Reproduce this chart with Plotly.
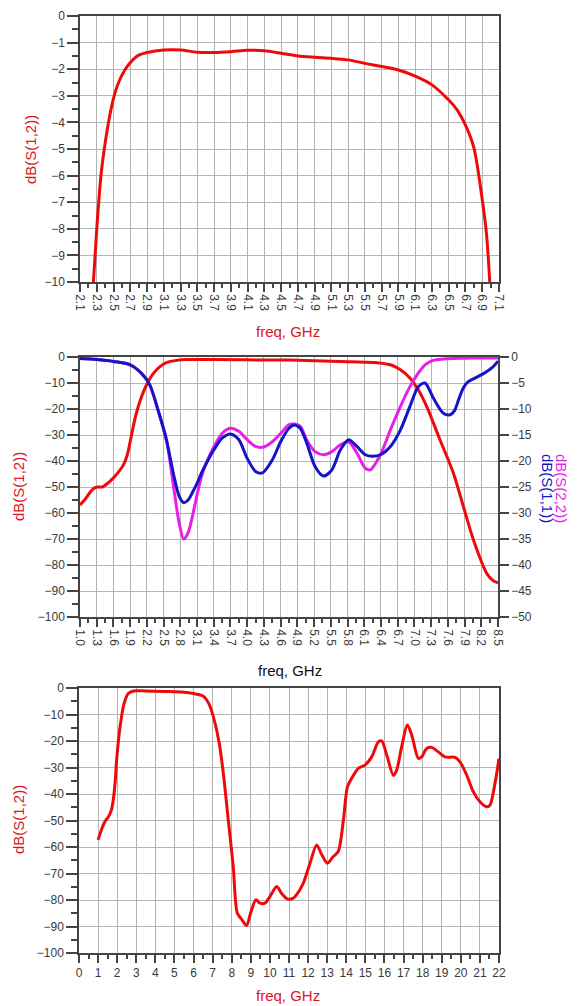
import plotly.graph_objects as go

# ---- Panel 1: passband detail, dB(S(1,2)) ----
top_freq = [2.26, 2.30, 2.35, 2.39, 2.44, 2.50, 2.56, 2.64, 2.73, 2.80, 2.90, 3.10, 3.30,
            3.50, 3.70, 3.90, 4.10, 4.30, 4.50, 4.70, 4.90, 5.10, 5.30, 5.50, 5.70,
            5.90, 6.10, 6.30, 6.50, 6.60, 6.70, 6.80, 6.90, 6.95, 6.99]
top_s12 = [-10.0, -8.0, -6.0, -5.0, -4.0, -3.1, -2.5, -2.0, -1.65, -1.47, -1.37, -1.28, -1.28,
           -1.36, -1.37, -1.34, -1.29, -1.31, -1.40, -1.50, -1.55, -1.59, -1.65, -1.78, -1.90,
           -2.03, -2.26, -2.59, -3.16, -3.53, -4.10, -4.95, -6.90, -8.17, -10.0]
top_xticks = [round(2.1 + 0.2 * i, 1) for i in range(26)]

# ---- Panel 2: S21 (left axis) with S11 / S22 (right axis) ----
mid_red_freq = [1.0, 1.1, 1.2, 1.27, 1.33, 1.40, 1.50, 1.60, 1.70, 1.78, 1.85, 1.92, 2.00,
                2.10, 2.20, 2.32, 2.44, 2.56, 2.74, 2.92, 3.5, 4.0, 4.77, 5.67, 6.27, 6.57,
                6.75, 6.92, 7.07, 7.22, 7.46, 7.70, 7.88, 8.06, 8.30, 8.42, 8.5]
mid_red_s12 = [-56.9, -54.5, -51.5, -50.2, -50.0, -50.0, -48.5, -46.5, -44.0, -41.5, -37.5,
               -30.5, -22.5, -15.5, -10.5, -6.2, -3.6, -2.1, -1.3, -1.0, -1.0, -1.1, -1.2,
               -1.7, -2.1, -3.0, -4.9, -8.1, -12.6, -19.0, -31.9, -44.7, -57.6, -70.4,
               -83.3, -86.1, -86.9]

s11_freq = [1.0, 1.3, 1.6, 1.9, 2.1, 2.25, 2.4, 2.55, 2.62, 2.7, 2.78, 2.86, 2.94, 3.02, 3.1,
            3.18, 3.25, 3.4, 3.55, 3.7, 3.85, 4.0, 4.15, 4.27, 4.45, 4.6, 4.75, 4.85, 4.95,
            5.07, 5.22, 5.37, 5.52, 5.67, 5.82, 5.97, 6.12, 6.25, 6.39, 6.57, 6.75, 6.92,
            7.07, 7.19, 7.34, 7.52, 7.64, 7.72, 7.80, 7.88, 7.96, 8.06, 8.24, 8.40, 8.5]
s11_db = [-0.3, -0.5, -0.85, -1.5, -3.1, -5.3, -10.2, -15.9, -19.5, -23.6, -26.8, -28.0, -27.5,
          -26.0, -24.3, -22.3, -20.8, -17.9, -15.6, -14.8, -15.9, -19.5, -22.0, -22.3, -19.8,
          -16.3, -13.7, -13.1, -13.7, -16.6, -21.1, -22.9, -21.7, -17.9, -15.9, -17.2, -18.8,
          -19.1, -18.8, -17.2, -14.0, -9.5, -5.7, -5.0, -7.9, -10.8, -11.1, -10.3, -8.0,
          -5.9, -4.8, -4.2, -3.2, -2.0, -0.8]

s22_freq = [1.0, 1.3, 1.6, 1.9, 2.1, 2.25, 2.4, 2.55, 2.62, 2.7, 2.78, 2.86, 2.94, 3.02, 3.1,
            3.18, 3.25, 3.4, 3.55, 3.7, 3.85, 4.0, 4.15, 4.3, 4.45, 4.6, 4.75, 4.85, 4.95,
            5.07, 5.22, 5.37, 5.52, 5.67, 5.82, 5.97, 6.12, 6.21, 6.39, 6.57, 6.75, 6.92,
            7.07, 7.19, 7.34, 7.52, 7.8, 8.1, 8.5]
s22_db = [-0.3, -0.5, -0.85, -1.5, -3.1, -5.3, -10.2, -15.9, -20.5, -26.5, -32.0, -35.0, -33.8,
          -30.5, -26.5, -23.0, -20.8, -17.3, -14.7, -13.7, -14.3, -15.9, -17.2, -17.3, -16.3,
          -14.7, -13.0, -12.9, -13.3, -16.0, -18.2, -18.8, -18.2, -16.9, -16.3, -18.5, -21.4,
          -21.7, -18.8, -14.0, -9.5, -5.7, -3.1, -1.5, -0.65, -0.4, -0.25, -0.2, -0.2]
mid_xticks = [round(1.0 + 0.3 * i, 1) for i in range(26)]

# ---- Panel 3: wideband dB(S(1,2)) ----
bot_freq = [1.0, 1.2, 1.36, 1.55, 1.7, 1.8, 1.9, 1.97, 2.15, 2.36, 2.58, 2.85, 3.5, 4.5, 5.5,
            6.0, 6.5, 6.8, 7.04, 7.35, 7.6, 7.8, 8.08, 8.29, 8.52, 8.78, 8.99, 9.27, 9.48,
            9.74, 10.0, 10.36, 10.6, 10.91, 11.23, 11.40, 11.75, 12.10, 12.45, 12.71, 13.01,
            13.32, 13.58, 13.85, 14.06, 14.28, 14.63, 14.98, 15.33, 15.68, 15.86, 16.12,
            16.47, 16.64, 16.9, 17.2, 17.43, 17.78, 17.95, 18.21, 18.47, 18.82, 19.17,
            19.70, 19.96, 20.31, 20.65, 21.0, 21.36, 21.53, 21.79, 22.0]
bot_s12 = [-57.3, -53.0, -50.4, -48.5, -46.0, -42.0, -35.0, -27.2, -14.7, -5.9, -2.1, -1.1,
           -1.1, -1.3, -1.6, -2.1, -3.0, -5.9, -10.9, -20.9, -34.7, -48.5, -67.4, -84.9,
           -87.3, -89.6, -84.9, -79.9, -81.2, -81.2, -78.7, -74.9, -77.4, -79.6, -79.3,
           -78.0, -73.6, -66.1, -59.2, -62.8, -66.1, -63.6, -61.7, -49.8, -37.3, -34.1,
           -30.3, -29.1, -26.0, -20.3, -20.0, -25.3, -33.0, -31.0, -22.2, -14.0, -17.8,
           -26.6, -26.0, -22.8, -22.4, -24.1, -26.0, -26.2, -27.9, -32.9, -39.1, -42.9,
           -44.8, -44.2, -36.0, -26.6]

W, H = 588, 1006
RED = "#ee0a0a"
BLUE = "#1414c8"
MAGENTA = "#e81ee8"
LABEL_RED = "#dc1428"
AX = "#444444"
GRID = "#b4b4b4"
FONT = "Liberation Sans, Arial, sans-serif"


def xdom(l, r):
    return [l / W, r / W]


def ydom(t, b):
    return [1 - b / H, 1 - t / H]


def px(x):
    return x / W


def py(y):
    return 1 - y / H


line_kw = dict(shape="spline", smoothing=0.8, width=3)

fig = go.Figure()
fig.add_trace(go.Scatter(x=top_freq, y=top_s12, mode="lines", line=dict(color=RED, **line_kw),
                         xaxis="x", yaxis="y", hoverinfo="skip"))
fig.add_trace(go.Scatter(x=s22_freq, y=s22_db, mode="lines", line=dict(color=MAGENTA, **line_kw),
                         xaxis="x2", yaxis="y4", hoverinfo="skip"))
fig.add_trace(go.Scatter(x=s11_freq, y=s11_db, mode="lines", line=dict(color=BLUE, **line_kw),
                         xaxis="x2", yaxis="y4", hoverinfo="skip"))
fig.add_trace(go.Scatter(x=mid_red_freq, y=mid_red_s12, mode="lines", line=dict(color=RED, **line_kw),
                         xaxis="x2", yaxis="y2", hoverinfo="skip"))
fig.add_trace(go.Scatter(x=bot_freq, y=bot_s12, mode="lines", line=dict(color=RED, **line_kw),
                         xaxis="x3", yaxis="y3", hoverinfo="skip"))

tickfont = dict(family=FONT, size=12, color="#3a3a3a")
common = dict(showline=True, linecolor=AX, linewidth=1.5, mirror=True, ticks="outside",
              tickcolor=AX, tickwidth=1.5, showgrid=True, gridcolor=GRID, gridwidth=1,
              zeroline=False, tickfont=tickfont, fixedrange=True, automargin=False)

fig.update_layout(
    width=W, height=H, margin=dict(l=0, r=0, t=0, b=0, autoexpand=False),
    paper_bgcolor="white", plot_bgcolor="white", showlegend=False,
    xaxis=dict(domain=xdom(80, 499), anchor="y", range=[2.1, 7.1],
               tickvals=top_xticks, ticktext=[f"{v:.1f}" for v in top_xticks],
               tickangle=90, ticklen=8,
               minor=dict(dtick=0.1, tick0=2.1, ticks="outside", ticklen=4, tickcolor=AX, showgrid=False),
               **common),
    yaxis=dict(domain=ydom(16, 282), anchor="x", range=[-10, 0], dtick=1, ticklen=11,
               minor=dict(dtick=0.5, ticks="outside", ticklen=6, tickcolor=AX, showgrid=False),
               **common),
    xaxis2=dict(domain=xdom(80, 498), anchor="y2", range=[1.0, 8.5],
                tickvals=mid_xticks, ticktext=[f"{v:.1f}" for v in mid_xticks],
                tickangle=90, ticklen=8,
                minor=dict(dtick=0.15, tick0=1.0, ticks="outside", ticklen=4, tickcolor=AX, showgrid=False),
                **common),
    yaxis2=dict(domain=ydom(357, 617), anchor="x2", range=[-100, 0], dtick=10, ticklen=11,
                minor=dict(dtick=5, ticks="outside", ticklen=6, tickcolor=AX, showgrid=False),
                **common),
    yaxis4=dict(overlaying="y2", anchor="x2", side="right", range=[-50, 0], dtick=5,
                showline=True, linecolor=AX, linewidth=1.5, ticks="outside", ticklen=9,
                tickcolor=AX, tickwidth=1.5, showgrid=False, zeroline=False,
                tickfont=tickfont, fixedrange=True, automargin=False),
    xaxis3=dict(domain=xdom(79, 499), anchor="y3", range=[0, 22], dtick=1, ticklen=8,
                minor=dict(dtick=0.5, ticks="outside", ticklen=4, tickcolor=AX, showgrid=False),
                **common),
    yaxis3=dict(domain=ydom(688, 953), anchor="x3", range=[-100, 0], dtick=10, ticklen=11,
                minor=dict(dtick=5, ticks="outside", ticklen=6, tickcolor=AX, showgrid=False),
                **common),
)

lab = dict(family=FONT, size=15)
annots = [
    dict(x=px(30), y=py(150), text="dB(S(1,2))", textangle=-90, font=dict(color=LABEL_RED, **lab)),
    dict(x=px(288), y=py(331), text="freq, GHz", font=dict(color=LABEL_RED, **lab)),
    dict(x=px(18), y=py(487), text="dB(S(1,2))", textangle=-90, font=dict(color=LABEL_RED, **lab)),
    dict(x=px(562), y=py(488), text="dB(S(2,2))", textangle=90, font=dict(color=MAGENTA, **lab)),
    dict(x=px(548), y=py(488), text="dB(S(1,1))", textangle=90, font=dict(color=BLUE, **lab)),
    dict(x=px(290), y=py(670), text="freq, GHz", font=dict(color="#111111", **lab)),
    dict(x=px(18), y=py(820), text="dB(S(1,2))", textangle=-90, font=dict(color=LABEL_RED, **lab)),
    dict(x=px(288), y=py(995), text="freq, GHz", font=dict(color=LABEL_RED, **lab)),
]
for a in annots:
    fig.add_annotation(xref="paper", yref="paper", showarrow=False,
                       xanchor="center", yanchor="middle", **a)

fig.write_html("out.html")
